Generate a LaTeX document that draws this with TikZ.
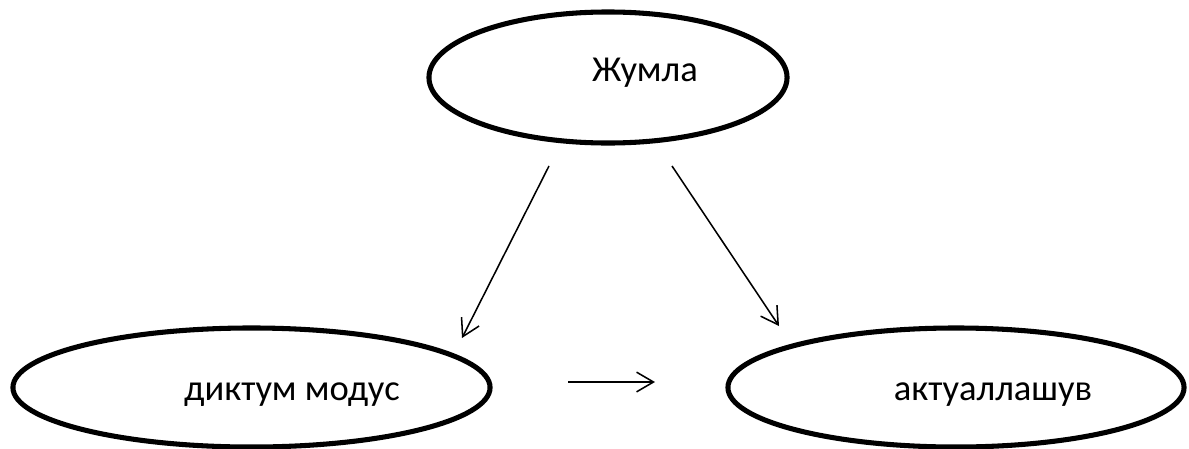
\documentclass[tikz,border=0pt]{standalone}
\usepackage{fontspec}
\setmainfont{Carlito}
\usetikzlibrary{shapes.geometric, arrows.meta, positioning}

\begin{document}
\begin{tikzpicture}[
  x=0.025cm, y=-0.025cm,
  font=\fontsize{26}{30}\selectfont,
  oval/.style={
    ellipse, draw=black, line width=3.6pt, inner sep=0pt
  },
  word/.style={anchor=base, inner sep=0pt},
  flow/.style={line width=1.1pt, -{Straight Barb[length=12pt, width=14pt, line width=1.1pt]}}
]
\useasboundingbox (0,0) rectangle (1189,448);

% Ovals
\node[oval, minimum width=8.95cm, minimum height=3.275cm] (jumla) at (608,77.5) {};
\node[oval, minimum width=11.925cm, minimum height=2.975cm] (diktum) at (251.5,387.5) {};
\node[oval, minimum width=11.4cm, minimum height=2.975cm] (aktual) at (956,387.5) {};

% Labels
\node[word] (jumlatxt) at (645,81) {Жумла};
\node[word] (diktumtxt) at (292,400) {диктум модус};
\node[word] (aktualtxt) at (993,400) {актуаллашув};

% Arrow ends
\coordinate (ls) at (549,166);
\coordinate (le) at (462,338);
\coordinate (rs) at (672,166);
\coordinate (re) at (779,326);
\coordinate (hs) at (568,382);
\coordinate (he) at (655,382);

% Flow arrows
\draw[flow] (ls) -- (le);
\draw[flow] (rs) -- (re);
\draw[flow] (hs) -- (he);

\end{tikzpicture}
\end{document}
